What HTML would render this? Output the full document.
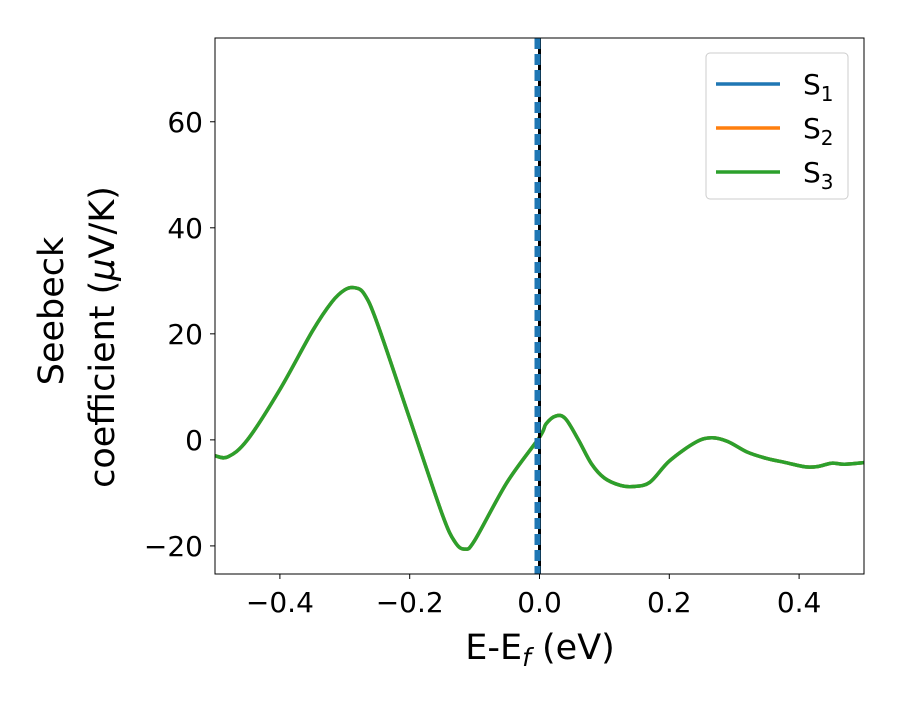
<!DOCTYPE html>
<html><head><meta charset="utf-8"><style>
body{margin:0;background:#fff;}
svg{font-family:"DejaVu Sans","Liberation Sans",sans-serif;}
</style></head><body>
<svg id="chart" width="900" height="700" viewBox="0 0 900 700">
<rect x="0" y="0" width="900" height="700" fill="#fff"/>
<g id="plot"></g>
</svg>
<script>
const xValues=[-0.5,-0.48,-0.45,-0.4,-0.35,-0.32,-0.3,-0.285,-0.27,-0.25,-0.2,-0.15,-0.13,-0.115,-0.1,-0.05,0,0.01,0.025,0.04,0.06,0.08,0.1,0.125,0.145,0.17,0.2,0.24,0.265,0.29,0.32,0.35,0.38,0.41,0.43,0.45,0.47,0.5];
const s3Values=[-3,-3.2,0,9.5,20.5,26,28.3,28.7,27.5,22,4,-14,-19.3,-20.6,-19,-8,0.5,3,4.5,4,0,-4.5,-7.2,-8.6,-8.8,-8,-4,-0.5,0.4,-0.3,-2.3,-3.5,-4.3,-5.1,-5,-4.4,-4.6,-4.3];
const s1Values=s3Values.slice();
const s2Values=s3Values.slice();
const xTicks=[-0.4,-0.2,0.0,0.2,0.4];
const xTickLabels=["\u22120.4","\u22120.2","0.0","0.2","0.4"];
const yTicks=[-20,0,20,40,60];
const yTickLabels=["\u221220","0","20","40","60"];
const seriesNames=["S1","S2","S3"];
const seriesColors=["#1f77b4","#ff7f0e","#2ca02c"];
const fermiLine=[0];

const L=215,R=864,T=38,B=574;
const xMin=-0.5,xMax=0.5,yMin=-25.3,yMax=75.8;
const sx=v=>L+(v-xMin)/(xMax-xMin)*(R-L);
const sy=v=>B-(v-yMin)/(yMax-yMin)*(B-T);
const NS="http://www.w3.org/2000/svg";
const g=document.getElementById('plot');
function mk(t,a){const e=document.createElementNS(NS,t);for(const k in a)e.setAttribute(k,a[k]);g.appendChild(e);return e;}

const clip=document.createElementNS(NS,'clipPath');clip.setAttribute('id','cp');
const cr=document.createElementNS(NS,'rect');cr.setAttribute('x',L);cr.setAttribute('y',T);cr.setAttribute('width',R-L);cr.setAttribute('height',B-T);clip.appendChild(cr);g.appendChild(clip);

function pathFor(xs,ys){
  const p=xs.map((x,i)=>[sx(x),sy(ys[i])]);
  let d=`M${p[0][0]},${p[0][1]}`;
  for(let i=0;i<p.length-1;i++){
    const p0=p[Math.max(i-1,0)],p1=p[i],p2=p[i+1],p3=p[Math.min(i+2,p.length-1)];
    const c1=[p1[0]+(p2[0]-p0[0])/6,p1[1]+(p2[1]-p0[1])/6];
    const c2=[p2[0]-(p3[0]-p1[0])/6,p2[1]-(p3[1]-p1[1])/6];
    d+=`C${c1[0]},${c1[1]} ${c2[0]},${c2[1]} ${p2[0]},${p2[1]}`;
  }
  return d;
}
const allSeries=[s1Values,s2Values,s3Values];
allSeries.forEach((vals,i)=>{
  const e=mk('path',{d:pathFor(xValues,vals),fill:'none',stroke:seriesColors[i],'stroke-width':3.5,'stroke-linejoin':'round','clip-path':'url(#cp)'});
  
  
});
fermiLine.forEach(v=>{
  const b=mk('line',{x1:sx(v),x2:sx(v),y1:T,y2:B,stroke:'#000','stroke-width':3});
  
  
  const d=mk('line',{x1:sx(v)-2,x2:sx(v)-2,y1:T,y2:B,stroke:'#1f77b4','stroke-width':6,'stroke-dasharray':'11,5'});
  
  
});
const fr=mk('rect',{x:L,y:T,width:R-L,height:B-T,fill:'none',stroke:'#000','stroke-width':1});



xTicks.forEach((v,i)=>{
  mk('line',{x1:sx(v),x2:sx(v),y1:B,y2:B+5,stroke:'#000','stroke-width':1});
  const t=mk('text',{x:sx(v),y:B+38,'font-size':28,'text-anchor':'middle',fill:'#000'});
  t.textContent=xTickLabels[i];
  
  
});
yTicks.forEach((v,i)=>{
  mk('line',{x1:L-5,x2:L,y1:sy(v),y2:sy(v),stroke:'#000','stroke-width':1});
  const t=mk('text',{x:L-12,y:sy(v)+10,'font-size':28,'text-anchor':'end',fill:'#000'});
  t.textContent=yTickLabels[i];
  
  
});
const xt=mk('text',{x:540,y:659,'font-size':35,'text-anchor':'middle',fill:'#000'});
xt.innerHTML='E-E<tspan font-style="italic" font-size="25" dy="7">f</tspan><tspan dy="-7"> (eV)</tspan>';


const yt=mk('text',{transform:'translate(63,311) rotate(-90)','font-size':35,'text-anchor':'middle',fill:'#000'});
yt.textContent='Seebeck';


const yt2=mk('text',{transform:'translate(114,337) rotate(-90)','font-size':35,'text-anchor':'middle',fill:'#000'});
yt2.innerHTML='coefficient  (<tspan font-style="italic">μ</tspan>V/K)';



const lg=mk('rect',{x:706,y:53,width:142,height:146,rx:4,fill:'#fff',stroke:'#ccc','stroke-width':1});


seriesNames.forEach((n,i)=>{
  const y=84+i*44;
  const l=mk('line',{x1:716,x2:780,y1:y,y2:y,stroke:seriesColors[i],'stroke-width':3.5});
  
  
  const t=mk('text',{x:803,y:y+10,'font-size':28,fill:'#000'});
  t.innerHTML=n[0]+'<tspan font-size="20" dy="7">'+n.slice(1)+'</tspan>';
  
  
});
</script>
</body></html>
